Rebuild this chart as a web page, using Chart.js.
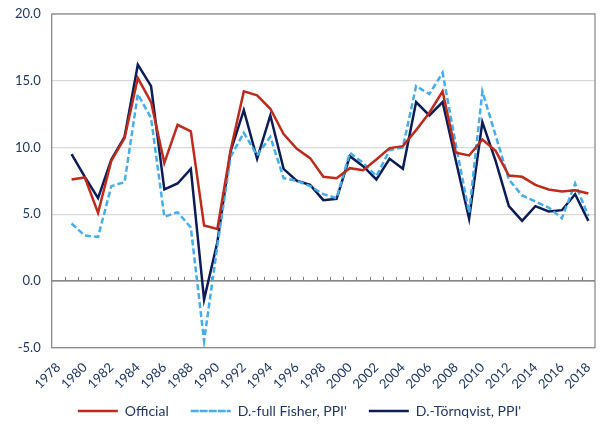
<!DOCTYPE html>
<html>
<head>
<meta charset="utf-8">
<script src="https://cdn.jsdelivr.net/npm/chart.js@4.4.0/dist/chart.umd.min.js"></script>
<style>
html,body{margin:0;padding:0;background:#fff;}
#wrap{width:600px;height:426px;}
</style>
</head>
<body>
<div id="wrap"><canvas id="c"></canvas></div>
<script>
const years = ["1978","1979","1980","1981","1982","1983","1984","1985","1986","1987","1988","1989","1990","1991","1992","1993","1994","1995","1996","1997","1998","1999","2000","2001","2002","2003","2004","2005","2006","2007","2008","2009","2010","2011","2012","2013","2014","2015","2016","2017","2018"];
const official = [null,7.6,7.75,5.1,9.0,10.7,15.2,13.4,8.85,11.7,11.2,4.15,3.9,9.8,14.2,13.9,12.9,11.0,9.9,9.2,7.8,7.7,8.45,8.3,9.1,9.95,10.1,11.3,12.6,14.2,9.6,9.4,10.6,9.75,7.9,7.8,7.2,6.85,6.7,6.8,6.55];
const fisher = [null,4.3,3.4,3.3,7.1,7.4,14.0,12.2,4.8,5.15,4.0,-4.5,2.6,9.3,11.1,9.4,10.8,7.7,7.5,7.1,6.5,6.2,9.6,8.85,7.85,9.8,10.0,14.6,14.0,15.6,10.2,5.1,14.2,10.9,7.6,6.4,5.95,5.5,4.7,7.3,4.85];
const tornqvist = [null,9.5,7.8,6.2,9.1,10.8,16.2,14.6,6.85,7.3,8.4,-1.4,2.9,9.7,12.8,9.15,12.4,8.4,7.5,7.2,6.05,6.15,9.35,8.6,7.6,9.15,8.4,13.4,12.4,13.4,9.0,4.65,11.9,9.0,5.6,4.5,5.6,5.2,5.3,6.5,4.5];
const seriesNames = ["Official","D.-full Fisher, PPI'","D.-Törnqvist, PPI'"];
const yTicks = [-5,0,5,10,15,20];

const txt = '#1F3864';
const FONT = 'Lato, "Open Sans", sans-serif';

const LEGEND_H = 28, LEGEND_SHIFT = 14;

const framePlugin = {
  id:'frame',
  beforeUpdate(chart){
    const lg = chart.legend;
    if (lg && !lg._patched){
      lg._patched = true;
      const fit = lg.fit.bind(lg);
      lg.fit = function(){ fit(); this.height = LEGEND_H; };
      const draw = lg.draw.bind(lg);
      lg.draw = function(){ const t = this.top; this.top = t - LEGEND_SHIFT; draw(); this.top = t; };
    }
  },
  beforeDatasetsDraw(chart){
    const a = chart.chartArea, ctx = chart.ctx;
    const xs = chart.scales.x, ys = chart.scales.y;
    const y0 = ys.getPixelForValue(0);
    ctx.save();
    ctx.strokeStyle = '#6E6E6E';
    ctx.lineWidth = 1.3;
    ctx.beginPath();
    ctx.moveTo(a.left, y0); ctx.lineTo(a.right, y0);
    ctx.stroke();
    ctx.lineWidth = 1;
    ctx.strokeStyle = '#7F7F7F';
    ctx.beginPath();
    for (let i = 0; i < years.length - 1; i++){
      const xp = (xs.getPixelForValue(i) + xs.getPixelForValue(i+1)) / 2;
      ctx.moveTo(Math.round(xp)+0.5, y0); ctx.lineTo(Math.round(xp)+0.5, y0 - 4);
    }
    ctx.stroke();
    ctx.restore();
  },
  afterDraw(chart){
    const a = chart.chartArea, ctx = chart.ctx;
    ctx.save();
    ctx.strokeStyle = '#8C8C8C';
    ctx.lineWidth = 1.3;
    ctx.strokeRect(a.left, a.top, a.right-a.left, a.bottom-a.top);
    ctx.restore();
  }
};

new Chart(document.getElementById('c'), {
  type:'line',
  data:{
    labels: years,
    datasets:[
      {label:seriesNames[0], data:official, borderColor:'#BE2A1C', backgroundColor:'transparent', borderWidth:2.5, pointRadius:0, tension:0},
      {label:seriesNames[1], data:fisher, borderColor:'#45ADEA', backgroundColor:'transparent', borderWidth:2.5, borderDash:[6,3], pointRadius:0, tension:0},
      {label:seriesNames[2], data:tornqvist, borderColor:'#0B1C58', backgroundColor:'transparent', borderWidth:2.5, pointRadius:0, tension:0}
    ]
  },
  options:{
    responsive:true,
    maintainAspectRatio:false,
    animation:false,
    layout:{padding:{left:4,right:5,top:14,bottom:2}},
    scales:{
      x:{
        type:'category',
        offset:true,
        grid:{display:false},
        border:{display:false},
        afterFit(scale){ scale.paddingRight = 0; },
        ticks:{
          autoSkip:false, maxRotation:45, minRotation:45, padding:4,
          color:txt, font:{family:FONT,size:13},
          callback:function(v,i){ return (i%2===0) ? years[i] : ''; }
        }
      },
      y:{
        min:-5, max:20,
        afterBuildTicks(axis){ axis.ticks = yTicks.map(v=>({value:v})); },
        afterFit(scale){ scale.paddingTop = 0; scale.paddingBottom = 0; },
        grid:{color:'#D9D9D9', lineWidth:1.3, drawTicks:false},
        border:{display:false},
        ticks:{color:txt, font:{family:FONT,size:13}, padding:11, callback:v=>Number(v).toFixed(1)}
      }
    },
    plugins:{
      legend:{
        position:'bottom',
        labels:{
          color:txt, font:{family:FONT,size:14},
          boxWidth:40, boxHeight:0, padding:22,
          generateLabels(chart){
            return chart.data.datasets.map((ds,i)=>({
              text:ds.label, fillStyle:'transparent', strokeStyle:ds.borderColor,
              lineWidth:2.5, lineDash:ds.borderDash||[], hidden:false, datasetIndex:i, fontColor:txt
            }));
          }
        }
      },
      tooltip:{enabled:false}
    }
  },
  plugins:[framePlugin]
});
</script>
</body>
</html>
